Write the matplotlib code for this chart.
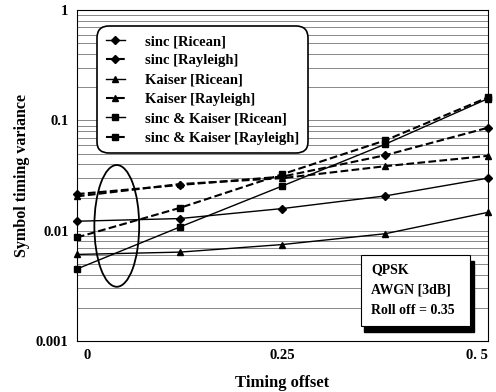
import matplotlib
matplotlib.use('Agg')
import matplotlib.pyplot as plt
import matplotlib.transforms as mtransforms
from matplotlib.patches import Ellipse, Rectangle
from matplotlib.ticker import FixedLocator, NullFormatter

plt.rcParams['font.family'] = ['Liberation Serif', 'DejaVu Serif']
plt.rcParams['font.weight'] = 'bold'

# data
offset = [0, 0.125, 0.25, 0.375, 0.5]
sinc_ricean = [0.0122, 0.0129, 0.0159, 0.0207, 0.030]
sinc_rayleigh = [0.0215, 0.026, 0.031, 0.0484, 0.086]
kaiser_ricean = [0.0061, 0.0064, 0.0075, 0.0094, 0.0147]
kaiser_rayleigh = [0.0205, 0.0265, 0.030, 0.0385, 0.0478]
sk_ricean = [0.0045, 0.0108, 0.0255, 0.061, 0.158]
sk_rayleigh = [0.0087, 0.0161, 0.0326, 0.066, 0.162]

series = [
    ("sinc [Ricean]", sinc_ricean, 'D', '-'),
    ("sinc [Rayleigh]", sinc_rayleigh, 'D', '--'),
    ("Kaiser [Ricean]", kaiser_ricean, '^', '-'),
    ("Kaiser [Rayleigh]", kaiser_rayleigh, '^', '--'),
    ("sinc & Kaiser [Ricean]", sk_ricean, 's', '-'),
    ("sinc & Kaiser [Rayleigh]", sk_rayleigh, 's', '--'),
]

fig = plt.figure(figsize=(4.96, 3.92), dpi=100)
ax = fig.add_axes([0.155, 0.130, 0.829, 0.844])

for label, vals, mk, ls in series:
    lw = 1.0 if ls == '-' else 1.5
    ms = 5 if mk != 'D' else 4.5
    ax.plot(offset, vals, color='black', linestyle=ls, linewidth=lw,
            marker=mk, markersize=ms, label=label, clip_on=False, zorder=3)

ax.set_yscale('log')
ax.set_ylim(0.001, 1)
ax.set_xlim(0, 0.5)
ax.yaxis.set_major_locator(FixedLocator([0.001, 0.01, 0.1, 1]))
ax.set_yticklabels(["0.001", "0.01", "0.1", "1"])
ax.yaxis.set_minor_formatter(NullFormatter())
ax.set_xticks([0, 0.25, 0.5])
ax.set_xticklabels(["0", "0.25", "0. 5"])
ax.tick_params(axis='both', which='both', length=0, labelsize=10.5, pad=6)
ax.grid(True, axis='y', which='both', color='#888888', linewidth=0.7)

# nudge the end tick labels like the original
xlabs = ax.get_xticklabels()
xlabs[0].set_transform(xlabs[0].get_transform() +
                       mtransforms.ScaledTranslation(0.10, 0, fig.dpi_scale_trans))
xlabs[-1].set_horizontalalignment('right')

ax.set_xlabel("Timing offset", fontsize=12, fontweight='bold', labelpad=9)
ax.set_ylabel("Symbol timing variance", fontsize=11.5, fontweight='bold', labelpad=4)

leg = ax.legend(loc='upper left', bbox_to_anchor=(0.049, 0.952),
                frameon=True, fancybox=True, edgecolor='black', framealpha=1,
                handlelength=1.3, handletextpad=1.4, labelspacing=0.42,
                borderpad=0.6, borderaxespad=0,
                prop={'weight': 'bold', 'size': 10.5})
leg.get_frame().set_linewidth(1.2)
leg.get_frame().set_boxstyle('round', pad=0, rounding_size=0.8)

# ellipse marking the starting points
ax.add_patch(Ellipse((0.097, 0.348), 0.109, 0.368, transform=ax.transAxes,
                     fill=False, edgecolor='black', linewidth=1.3, zorder=4))

# info box with shadow
ax.add_patch(Rectangle((0.698, 0.027), 0.267, 0.215, transform=ax.transAxes,
                       facecolor='black', edgecolor='black', zorder=5))
ax.add_patch(Rectangle((0.69, 0.045), 0.265, 0.215, transform=ax.transAxes,
                       facecolor='white', edgecolor='black', linewidth=0.8, zorder=6))
ax.text(0.716, 0.235, "QPSK\nAWGN [3dB]\nRoll off = 0.35", transform=ax.transAxes,
        fontsize=10, fontweight='bold', va='top', ha='left', linespacing=1.75, zorder=7)

plt.savefig('out.png', dpi=100)
